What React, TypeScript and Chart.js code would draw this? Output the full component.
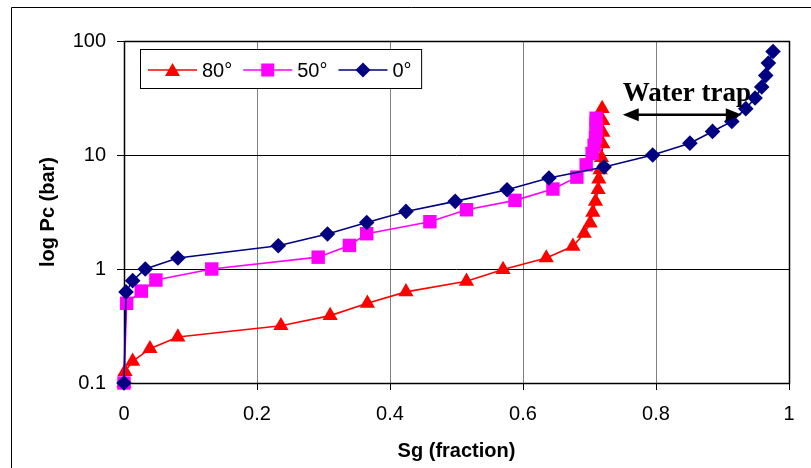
import React, { useEffect, useRef } from "react";
import { Chart, registerables } from "chart.js";

Chart.register(...registerables);

// ---- data ----
const seriesLabels = ["80°", "50°", "0°"];
const seriesColors = ["#FF0000", "#FF00FF", "#000080"];

const sg80 = [0, 0.0015, 0.013, 0.039, 0.081, 0.236, 0.31, 0.366, 0.424, 0.515, 0.57, 0.635, 0.675, 0.692, 0.701, 0.705, 0.709, 0.713, 0.714, 0.716, 0.718, 0.72, 0.72, 0.72, 0.719];
const pc80 = [0.1, 0.126, 0.155, 0.2, 0.253, 0.318, 0.39, 0.5, 0.63, 0.78, 0.99, 1.25, 1.58, 2.05, 2.53, 3.14, 3.92, 4.96, 6.16, 7.4, 9.5, 12.5, 15.8, 20, 25.5];

const sg50 = [0, 0.004, 0.026, 0.048, 0.132, 0.292, 0.339, 0.365, 0.46, 0.515, 0.588, 0.645, 0.681, 0.695, 0.704, 0.707, 0.709, 0.71, 0.71, 0.71];
const pc50 = [0.1, 0.5, 0.64, 0.8, 1.0, 1.27, 1.61, 2.04, 2.6, 3.31, 4.0, 5.03, 6.4, 8.2, 10.3, 12.2, 14.3, 16.6, 19, 21];

const sg0 = [0, 0.003, 0.013, 0.032, 0.081, 0.232, 0.306, 0.365, 0.424, 0.498, 0.576, 0.639, 0.722, 0.795, 0.851, 0.885, 0.914, 0.935, 0.949, 0.959, 0.965, 0.969, 0.976];
const pc0 = [0.1, 0.63, 0.79, 1.0, 1.25, 1.6, 2.03, 2.56, 3.2, 3.92, 4.96, 6.29, 7.85, 10, 12.7, 16.1, 19.7, 25.5, 31.6, 39.5, 49.9, 64, 81];

const xTickValues = [0, 0.2, 0.4, 0.6, 0.8, 1];
const xTickLabels = ["0", "0.2", "0.4", "0.6", "0.8", "1"];
const yTickValues = [0.1, 1, 10, 100];
const yTickLabels = ["0.1", "1", "10", "100"];

const xTitle = "Sg (fraction)";
const yTitle = "log Pc (bar)";

const annotationText = "Water trap";
const arrowSgFrom = 0.75;
const arrowSgTo = 0.929;
const arrowPc = 22.6;
const textSg = 0.75;
const textPc = 30;

const pointStyles = ["triangle", "rect", "rectRot"];
const pointRadii = [8.8, 9.5, 7.8];

function toPoints(xs: number[], ys: number[]) {
  return xs.map((x, i) => ({ x, y: ys[i] }));
}

const SANS = "'Liberation Sans', Arial, sans-serif";
const SERIF = "'Liberation Serif', 'Times New Roman', serif";

function drawMarker(ctx: CanvasRenderingContext2D, style: string, cx: number, cy: number, color: string) {
  ctx.save();
  ctx.fillStyle = color;
  ctx.beginPath();
  if (style === "triangle") {
    ctx.moveTo(cx, cy - 7);
    ctx.lineTo(cx + 7.5, cy + 6);
    ctx.lineTo(cx - 7.5, cy + 6);
  } else if (style === "rect") {
    ctx.rect(cx - 6.5, cy - 6.5, 13, 13);
  } else {
    ctx.moveTo(cx, cy - 7.5);
    ctx.lineTo(cx + 7.5, cy);
    ctx.lineTo(cx, cy + 7.5);
    ctx.lineTo(cx - 7.5, cy);
  }
  ctx.closePath();
  ctx.fill();
  ctx.restore();
}

const decorPlugin = {
  id: "decor",
  beforeDraw(chart: any) {
    const ctx = chart.ctx as CanvasRenderingContext2D;
    ctx.save();
    ctx.fillStyle = "#ffffff";
    ctx.fillRect(0, 0, chart.width, chart.height);
    ctx.strokeStyle = "#000000";
    ctx.lineWidth = 1;
    ctx.beginPath();
    ctx.moveTo(11.5, chart.height);
    ctx.lineTo(11.5, 7.5);
    ctx.lineTo(chart.width, 7.5);
    ctx.stroke();
    ctx.restore();
  },
  beforeDatasetsDraw(chart: any) {
    const ctx = chart.ctx as CanvasRenderingContext2D;
    const a = chart.chartArea;
    ctx.save();
    ctx.strokeStyle = "#000000";
    ctx.lineWidth = 1.5;
    ctx.strokeRect(Math.round(a.left) + 0.5, Math.round(a.top) + 0.5, Math.round(a.right - a.left), Math.round(a.bottom - a.top));
    ctx.restore();
  },
  afterDatasetsDraw(chart: any) {
    const ctx = chart.ctx as CanvasRenderingContext2D;
    const xs = chart.scales.x;
    const ys = chart.scales.y;
    // annotation
    ctx.save();
    const x1 = xs.getPixelForValue(arrowSgFrom);
    const x2 = xs.getPixelForValue(arrowSgTo);
    const ay = ys.getPixelForValue(arrowPc);
    const head = 16;
    const half = 6.5;
    ctx.strokeStyle = "#000000";
    ctx.fillStyle = "#000000";
    ctx.lineWidth = 2.5;
    ctx.beginPath();
    ctx.moveTo(x1 + head - 2, ay);
    ctx.lineTo(x2 - head + 2, ay);
    ctx.stroke();
    ctx.beginPath();
    ctx.moveTo(x1, ay);
    ctx.lineTo(x1 + head, ay - half);
    ctx.lineTo(x1 + head, ay + half);
    ctx.closePath();
    ctx.fill();
    ctx.beginPath();
    ctx.moveTo(x2, ay);
    ctx.lineTo(x2 - head, ay - half);
    ctx.lineTo(x2 - head, ay + half);
    ctx.closePath();
    ctx.fill();
    ctx.font = `bold 27px ${SERIF}`;
    ctx.textAlign = "left";
    ctx.textBaseline = "alphabetic";
    ctx.fillText(annotationText, xs.getPixelForValue(textSg), ys.getPixelForValue(textPc));
    ctx.restore();

    // legend
    ctx.save();
    ctx.font = `20px ${SANS}`;
    const boxLeft = 140.5;
    const boxTop = 49.5;
    const boxH = 39;
    const cy = 70;
    let x = 148;
    const items: { x: number; w: number }[] = [];
    seriesLabels.forEach((lab) => {
      const w = ctx.measureText(lab).width;
      items.push({ x, w });
      x += 54 + w + 11;
    });
    const boxRight = items[items.length - 1].x + 54 + items[items.length - 1].w + 10;
    ctx.fillStyle = "#ffffff";
    ctx.fillRect(boxLeft, boxTop, boxRight - boxLeft, boxH);
    ctx.strokeStyle = "#000000";
    ctx.lineWidth = 1;
    ctx.strokeRect(boxLeft, boxTop, boxRight - boxLeft, boxH);
    seriesLabels.forEach((lab, i) => {
      const it = items[i];
      ctx.strokeStyle = seriesColors[i];
      ctx.lineWidth = 1.5;
      ctx.beginPath();
      ctx.moveTo(it.x, cy);
      ctx.lineTo(it.x + 49, cy);
      ctx.stroke();
      drawMarker(ctx, pointStyles[i], it.x + 24.5, cy, seriesColors[i]);
      ctx.fillStyle = "#000000";
      ctx.textAlign = "left";
      ctx.textBaseline = "middle";
      ctx.fillText(lab, it.x + 54, cy + 1);
    });
    ctx.restore();
  },
};

export default function App() {
  const canvasRef = useRef<HTMLCanvasElement | null>(null);

  useEffect(() => {
    const canvas = canvasRef.current;
    if (!canvas) return;
    const xs = [sg80, sg50, sg0];
    const ys = [pc80, pc50, pc0];
    const chart = new Chart(canvas, {
      type: "scatter",
      data: {
        datasets: seriesLabels.map((label, i) => ({
          label,
          data: toPoints(xs[i], ys[i]),
          showLine: true,
          borderColor: seriesColors[i],
          backgroundColor: seriesColors[i],
          borderWidth: 1.6,
          pointStyle: pointStyles[i] as any,
          pointRadius: pointRadii[i],
          pointBorderWidth: 0,
          pointBackgroundColor: seriesColors[i],
          pointBorderColor: seriesColors[i],
          clip: false as any,
          order: 2 - i,
        })),
      },
      options: {
        animation: false,
        responsive: false,
        devicePixelRatio: 1,
        layout: { padding: { top: 41, right: 22, left: 0, bottom: 0 } },
        plugins: {
          legend: { display: false },
          tooltip: { enabled: false },
        },
        scales: {
          x: {
            type: "linear",
            min: 0,
            max: 1,
            afterFit: (s: any) => {
              s.height = 85;
            },
            afterBuildTicks: (s: any) => {
              s.ticks = xTickValues.map((v) => ({ value: v }));
            },
            ticks: {
              color: "#000000",
              font: { family: SANS, size: 20 },
              padding: 12,
              maxRotation: 0,
              callback: (v: any, idx: number) => xTickLabels[idx],
            },
            grid: {
              color: "#808080",
              lineWidth: 1,
              tickLength: 7,
              tickColor: "#000000",
            },
            border: { display: false },
            title: {
              display: true,
              text: xTitle,
              color: "#000000",
              font: { family: SANS, size: 20, weight: "bold" },
              padding: { top: 0, bottom: 5 },
            },
          },
          y: {
            type: "logarithmic",
            min: 0.1,
            max: 100,
            afterFit: (s: any) => {
              s.width = 124;
            },
            afterBuildTicks: (s: any) => {
              s.ticks = yTickValues.map((v) => ({ value: v }));
            },
            ticks: {
              color: "#000000",
              font: { family: SANS, size: 20 },
              padding: 11,
              callback: (v: any, idx: number) => yTickLabels[idx],
            },
            grid: {
              color: "#000000",
              lineWidth: 1,
              tickLength: 7,
              tickColor: "#000000",
            },
            border: { display: false },
            title: {
              display: true,
              text: yTitle,
              color: "#000000",
              font: { family: SANS, size: 20, weight: "bold" },
              padding: { top: 36, bottom: 0 },
            },
          },
        },
      },
      plugins: [decorPlugin],
    } as any);
    return () => {
      chart.destroy();
    };
  }, []);

  return (
    <div style={{ position: "absolute", left: 0, top: 0, width: 811, height: 468, background: "#fff" }}>
      <canvas ref={canvasRef} width={811} height={468} style={{ display: "block", width: 811, height: 468 }} />
    </div>
  );
}
